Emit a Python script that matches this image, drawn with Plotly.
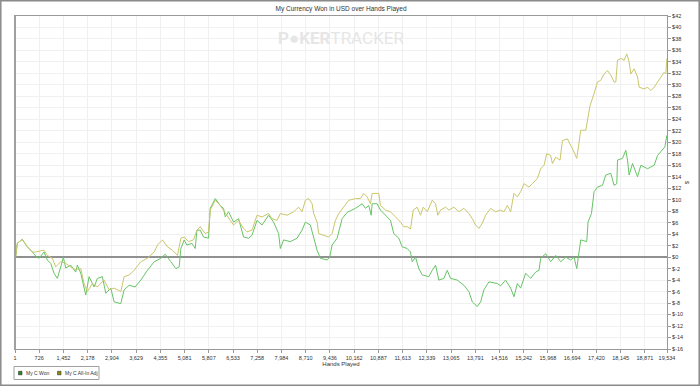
import plotly.graph_objects as go

# ---------------- data ----------------
won_hands = [21, 69, 219, 369, 519, 621, 720, 870, 969, 1071, 1170, 1269, 1371, 1449, 1521, 1671, 1821, 1869,
             1971, 2121, 2220, 2370, 2469, 2619, 2721, 2871, 2970, 3171, 3270, 3420, 3600, 3771, 3969, 4170,
             4371, 4500, 4671, 4821, 4920, 4971, 5070, 5151, 5301, 5400, 5451, 5550, 5649, 5799, 5850, 6000,
             6150, 6249, 6300, 6399, 6549, 6699, 6849, 6999, 7101, 7251, 7401, 7599, 7749, 7899, 7950, 8049,
             8250, 8451, 8601, 8700, 8850, 8949, 9051, 9150, 9351, 9429, 9501, 9651, 9801, 9951, 10200, 10401,
             10500, 10599, 10671, 10701, 10851, 10950, 11100, 11250, 11349, 11499, 11601, 11751, 11850, 11901,
             12000, 12099, 12201, 12399, 12501, 12600, 12699, 12849, 12951, 13050, 13251, 13449, 13599, 13701,
             13851, 13950, 14049, 14199, 14451, 14550, 14700, 14850, 14949, 15051, 15150, 15300, 15450, 15600,
             15699, 15750, 15900, 16050, 16200, 16350, 16500, 16650, 16749, 16830, 16899, 16950, 17130, 17169,
             17271, 17349, 17451, 17601, 17700, 17850, 17949, 18030, 18051, 18201, 18300, 18351, 18399, 18501,
             18651, 18750, 18951, 19149, 19251, 19401, 19470, 19530]
won_usd = [0, 2.4, 3.1, 1.8, 0.9, 0.2, -0.2, 0.9, -0.5, -1.1, -2.8, -3.7, -1.7, 0, -1.9, -1.4, -2.6, -1.4,
           -2.8, -6.6, -3.4, -5.2, -3.7, -3.4, -6.3, -5.4, -7.8, -8.1, -5.7, -4.9, -5.2, -4.0, -2.3, -0.8,
           -0.2, 0.5, -0.8, -2.0, -1.7, 1.5, 3.0, 2.1, 2.4, 1.5, 4.7, 4.7, 3.5, 3.3, 8.5, 10.2,
           9.0, 8.5, 7.0, 7.9, 6.1, 6.7, 3.5, 3.3, 3.8, 6.4, 5.6, 7.3, 6.1, 4.1, 1.5, 3.0,
           2.7, 3.3, 4.7, 6.1, 5.6, 3.5, 1.2, -0.2, -0.5, 0, 2.1, 3.3, 6.7, 7.8, 8.5, 9.3,
           8.5, 9.0, 7.3, 9.3, 9.3, 8.2, 7.3, 6.4, 4.1, 3.3, 1.8, 1.5, 0.9, -0.8,
           0, -2.0, -3.1, -3.4, -2.3, -1.4, -4.0, -3.7, -2.3, -3.7, -4.0, -4.9, -6.0, -7.8,
           -8.6, -7.8, -5.7, -4.3, -4.6, -5.0, -4.0, -5.4, -6.9, -4.6, -5.4, -2.8, -3.7, -2.6,
           -2.3, -0.2, 0.6, -0.8, 0.3, -0.8, 0, -0.5, 0, -2.0, 0.9, 3.0, 2.7, 6.1,
           7.6, 11.4, 12.2, 12.5, 14.3, 14.6, 12.5, 12.8, 16.9, 17.2, 18.6, 16.9, 14.3, 16.3,
           14.0, 16.0, 15.4, 16.0, 17.7, 18.6, 19.2, 21.2]

adj_hands = [21, 69, 219, 369, 519, 621, 771, 870, 969, 1119, 1221, 1371, 1500, 1650, 1800, 1971, 2070, 2169,
             2319, 2469, 2670, 2820, 2970, 3171, 3270, 3420, 3570, 3771, 3969, 4170, 4269, 4419, 4569, 4719,
             4869, 4971, 5070, 5199, 5349, 5451, 5550, 5700, 5799, 5850, 6000, 6150, 6300, 6450, 6549, 6699,
             6849, 6951, 7101, 7251, 7401, 7599, 7701, 7851, 7950, 8151, 8349, 8499, 8601, 8700, 8799, 8901,
             8949, 9051, 9099, 9249, 9399, 9501, 9600, 9699, 9849, 9999, 10200, 10350, 10449, 10551, 10650,
             10701, 10899, 10950, 11100, 11250, 11400, 11550, 11649, 11751, 11850, 11931, 12051, 12150, 12231,
             12351, 12501, 12600, 12669, 12750, 12900, 12999, 13149, 13299, 13449, 13599, 13701, 13800, 13899,
             14001, 14100, 14250, 14400, 14550, 14649, 14751, 14850, 14901, 14949, 15051, 15150, 15249, 15399,
             15501, 15651, 15750, 15849, 15930, 16050, 16101, 16200, 16329, 16401, 16551, 16650, 16749, 16830,
             16899, 16950, 17100, 17169, 17229, 17349, 17451, 17550, 17649, 17751, 17850, 17949, 18000, 18051,
             18150, 18249, 18330, 18399, 18450, 18549, 18651, 18699, 18849, 18951, 19050, 19149, 19251, 19350,
             19449, 19500, 19530]
adj_usd = [0, 2.4, 3.1, 1.8, 0.9, 0.9, 1.1, 1.2, 0.3, -0.2, -1.7, -0.8, -1.0, -1.6, -2.2, -2.0, -4.6, -6.0,
           -4.6, -5.2, -4.0, -5.7, -5.4, -6.0, -3.4, -3.1, -2.3, -0.8, -0.2, 0.9, 2.1, 3.0, 1.8, 1.2,
           0.3, 3.3, 3.5, 2.7, 3.0, 4.7, 5.3, 4.1, 4.4, 8.2, 9.9, 9.0, 7.6, 6.4, 5.6, 6.4,
           5.0, 4.4, 4.7, 7.3, 7.0, 7.6, 6.7, 6.4, 7.6, 7.3, 7.9, 8.7, 7.9, 9.9, 10.2, 9.3,
           7.6, 6.1, 4.1, 3.8, 3.5, 4.1, 6.4, 7.6, 8.7, 9.9, 10.2, 10.2, 11.1, 10.5, 9.3,
           11.1, 11.1, 9.0, 8.2, 7.9, 7.0, 6.1, 5.3, 5.3, 4.9, 8.2, 8.7, 7.3, 8.7,
           7.9, 9.9, 9.3, 7.3, 8.2, 8.7, 8.2, 8.7, 7.9, 8.5, 7.6, 6.7, 5.6, 5.0,
           5.9, 7.3, 8.5, 7.9, 8.2, 7.9, 9.0, 7.9, 9.3, 11.1, 10.5, 11.4, 12.8, 12.2,
           12.8, 13.7, 15.4, 16.0, 18.0, 17.7, 16.3, 17.4, 16.9, 20.3, 20.6, 19.5, 18.3, 17.2,
           20.3, 22.1, 22.1, 24.4, 26.4, 28.5, 30.5, 30.8, 31.9, 32.5, 31.7, 30.5, 30.5, 34.3,
           34.6, 34.3, 35.4, 34.0, 31.9, 32.8, 31.4, 29.6, 29.3, 29.6, 29.0, 29.6, 30.5, 31.4,
           32.2, 31.9, 34.6]

x_tick_vals = [1, 726, 1452, 2178, 2904, 3629, 4355, 5081, 5807, 6533, 7258, 7984, 8710, 9436, 10162,
               10887, 11613, 12339, 13065, 13791, 14516, 15242, 15968, 16694, 17420, 18145, 18871, 19534]
x_tick_labels = ["1", "726", "1,452", "2,178", "2,904", "3,629", "4,355", "5,081", "5,807", "6,533",
                 "7,258", "7,984", "8,710", "9,436", "10,162", "10,887", "11,613", "12,339", "13,065",
                 "13,791", "14,516", "15,242", "15,968", "16,694", "17,420", "18,145", "18,871", "19,534"]
y_tick_vals = [-16, -14, -12, -10, -8, -6, -4, -2, 0, 2, 4, 6, 8, 10, 12, 14, 16, 18, 20, 22, 24, 26, 28,
               30, 32, 34, 36, 38, 40, 42]
y_tick_labels = ["$-16", "$-14", "$-12", "$-10", "$-8", "$-6", "$-4", "$-2", "$0", "$2", "$4", "$6", "$8",
                 "$10", "$12", "$14", "$16", "$18", "$20", "$22", "$24", "$26", "$28", "$30", "$32", "$34",
                 "$36", "$38", "$40", "$42"]

series_names = ["My C Won", "My C All-In Adj"]
title_text = "My Currency Won in USD over Hands Played"

# ---------------- style ----------------
FONT = "Liberation Sans, Arial, sans-serif"
GREEN_LINE = "#66c466"
YELLOW_LINE = "#cac66a"
GREEN_KEY = "#1e8f1e"
YELLOW_KEY = "#8c8c10"

# plot-area geometry (pixels) used to place paper-referenced decorations
L, R, T, B = 15, 33, 16, 37
W, H = 700, 386
PW, PH = W - L - R, H - T - B


def px(xpix):
    return (xpix - L) / PW


def py(ypix):
    return (H - B - ypix) / PH


fig = go.Figure()
fig.add_trace(go.Scatter(x=won_hands, y=won_usd, mode="lines", name=series_names[0], showlegend=False,
                         line=dict(color=GREEN_LINE, width=1), hoverinfo="skip"))
fig.add_trace(go.Scatter(x=adj_hands, y=adj_usd, mode="lines", name=series_names[1], showlegend=False,
                         line=dict(color=YELLOW_LINE, width=1), hoverinfo="skip"))

shapes = [
    # thicker left axis line
    dict(type="line", xref="paper", yref="paper", x0=0, x1=0, y0=0, y1=1,
         line=dict(color="#a0a0a0", width=2)),
    # outer frame around the whole picture
    dict(type="rect", xref="paper", yref="paper", x0=px(0.8), x1=px(699.2), y0=py(385.2), y1=py(0.8),
         line=dict(color="#8a8a8a", width=1.5), layer="below"),
    # legend box
    dict(type="rect", xref="paper", yref="paper", x0=px(14), x1=px(99), y0=py(379.5), y1=py(366.5),
         line=dict(color="#a0a0a0", width=1), fillcolor="white"),
    # legend swatches
    dict(type="rect", xref="paper", yref="paper", x0=px(18.5), x1=px(22), y0=py(374.8), y1=py(371.3),
         line=dict(color="#333", width=0.6), fillcolor=GREEN_KEY),
    dict(type="rect", xref="paper", yref="paper", x0=px(57.5), x1=px(61), y0=py(374.8), y1=py(371.3),
         line=dict(color="#333", width=0.6), fillcolor=YELLOW_KEY),
]

annotations = [
    dict(text="<b>P●KER</b>TRACKER", xref="paper", yref="paper", x=0.5, y=py(38),
         xanchor="center", yanchor="middle", showarrow=False,
         font=dict(family="Roboto, Liberation Sans, sans-serif", size=17, color="#e6e6e6")),
    dict(text=series_names[0], xref="paper", yref="paper", x=px(23.5), y=py(373),
         xanchor="left", yanchor="middle", showarrow=False, font=dict(size=5, color="#333")),
    dict(text=series_names[1], xref="paper", yref="paper", x=px(62.5), y=py(373),
         xanchor="left", yanchor="middle", showarrow=False, font=dict(size=5, color="#333")),
]

fig.update_layout(
    width=W, height=H,
    margin=dict(l=L, r=R, t=T, b=B, autoexpand=False),
    paper_bgcolor="white", plot_bgcolor="white",
    font=dict(family=FONT, size=6, color="#333"),
    title=dict(text=title_text, x=0.5, xanchor="center", xref="paper",
               y=1 - 9 / H, yanchor="middle", font=dict(size=6.5, color="#333")),
    showlegend=False,
    xaxis=dict(range=[1, 19534], tickmode="array", tickvals=x_tick_vals, ticktext=x_tick_labels,
               ticks="outside", ticklen=3, tickcolor="#999", tickfont=dict(size=5.5, color="#333"),
               showgrid=True, gridcolor="#f0f0f0", gridwidth=1, zeroline=False, automargin=False,
               showline=True, linecolor="#999", linewidth=1, mirror=True,
               title=dict(text="Hands Played", font=dict(size=6, color="#333"), standoff=1)),
    yaxis=dict(range=[-16, 42], side="right", tickmode="array", tickvals=y_tick_vals,
               ticktext=y_tick_labels, ticks="outside", ticklen=3, tickcolor="#999",
               tickfont=dict(size=5.5, color="#333"), automargin=False,
               showgrid=True, gridcolor="#f0f0f0", gridwidth=1,
               zeroline=True, zerolinecolor="#909090", zerolinewidth=1.5,
               showline=True, linecolor="#999", linewidth=1, mirror=True,
               title=dict(text="$", font=dict(size=6, color="#333"), standoff=2)),
    shapes=shapes,
    annotations=annotations,
)

fig.write_html("out.html", config={"displayModeBar": False},
               post_script="document.body.style.margin='0';document.body.style.overflow='hidden';")
